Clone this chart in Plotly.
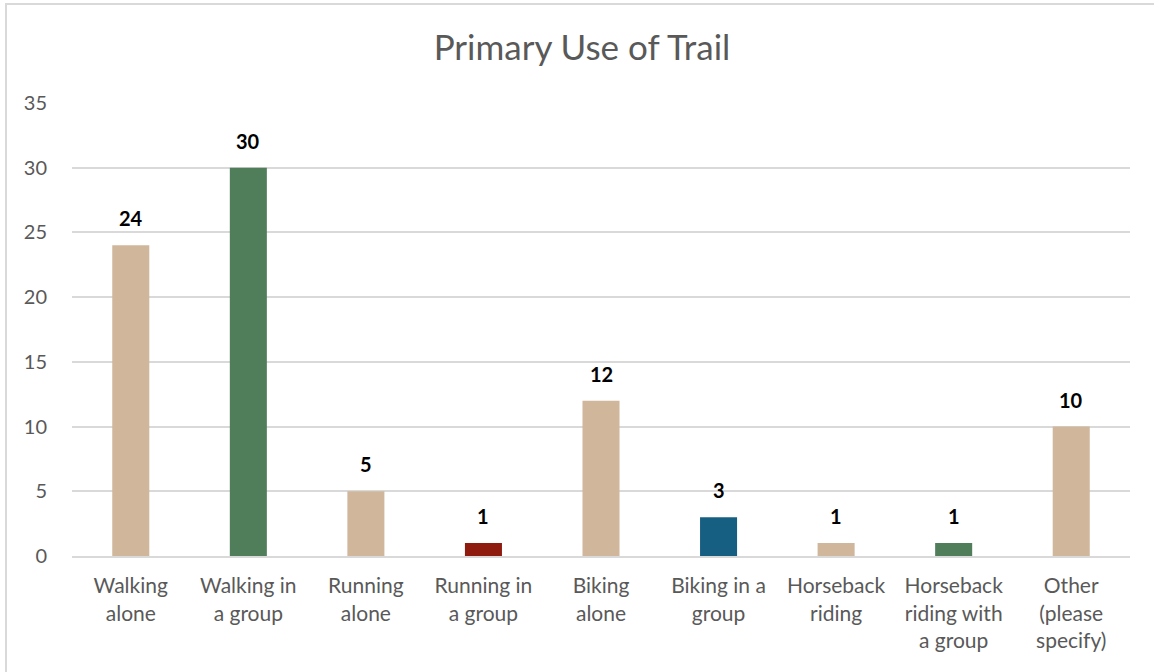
"""
Primary use of trail - bar chart rebuilt in Plotly.
"""

import plotly.graph_objects as go

categories = [
    "Walking<br>alone",
    "Walking in<br>a group",
    "Running<br>alone",
    "Running in<br>a group",
    "Biking<br>alone",
    "Biking in a<br>group",
    "Horseback<br>riding",
    "Horseback<br>riding with<br>a group",
    "Other<br>(please<br>specify)",
]
counts = [24, 30, 5, 1, 12, 3, 1, 1, 10]
bar_colors = [
    "#D0B69B", "#507D5A", "#D0B69B", "#8F1B0F", "#D0B69B",
    "#175F82", "#D0B69B", "#507D5A", "#D0B69B",
]

FONT = "Lato, 'Open Sans', sans-serif"
W, H = 1154, 672
L, R, T, B = 72, 24, 103, 116

fig = go.Figure()
fig.add_trace(
    go.Bar(
        x=categories,
        y=counts,
        marker={"color": bar_colors, "line": {"width": 0}},
        hoverinfo="x+y",
    )
)

# value labels sitting a little above each bar
for cat, val in zip(categories, counts):
    fig.add_annotation(
        x=cat,
        y=val,
        text=f"<b>{val}</b>",
        showarrow=False,
        yanchor="middle",
        yshift=27,
        font={"family": FONT, "size": 20, "color": "#000000"},
    )

# light chart-area border (left and top edges visible in the frame)
pw = W - L - R
ph = H - T - B
fig.add_shape(
    type="rect",
    xref="paper", yref="paper",
    x0=(6 - L) / pw, x1=(W + 10 - L) / pw,
    y0=-(H + 10 - T - ph) / ph, y1=(H - 4 - B) / ph,
    line={"color": "#D9D9D9", "width": 2},
    fillcolor="rgba(0,0,0,0)",
    layer="below",
)

fig.update_layout(
    title={
        "text": "Primary Use of Trail",
        "xref": "container",
        "x": 582 / W,
        "xanchor": "center",
        "y": 1 - 48 / H,
        "yanchor": "middle",
        "font": {"family": FONT, "size": 35, "color": "#595959"},
    },
    width=W,
    height=H,
    margin={"l": L, "r": R, "t": T, "b": B},
    paper_bgcolor="white",
    plot_bgcolor="white",
    bargap=0.685,
    showlegend=False,
    font={"family": FONT, "color": "#595959"},
    xaxis={
        "automargin": False,
        "showgrid": False,
        "showline": True,
        "linecolor": "#D9D9D9",
        "linewidth": 2,
        "ticks": "",
        "ticklabelstandoff": 10,
        "tickfont": {"size": 21, "color": "#595959"},
    },
    yaxis={
        "automargin": False,
        "range": [0, 35],
        "dtick": 5,
        "showgrid": True,
        "gridcolor": "#D9D9D9",
        "gridwidth": 2,
        "zeroline": False,
        "showline": False,
        "ticks": "",
        "ticklabelstandoff": 24,
        "tickfont": {"size": 20, "color": "#595959"},
    },
)

fig.write_html(
    "out.html",
    config={"displayModeBar": False},
    post_script="document.body.style.margin='0';",
)
